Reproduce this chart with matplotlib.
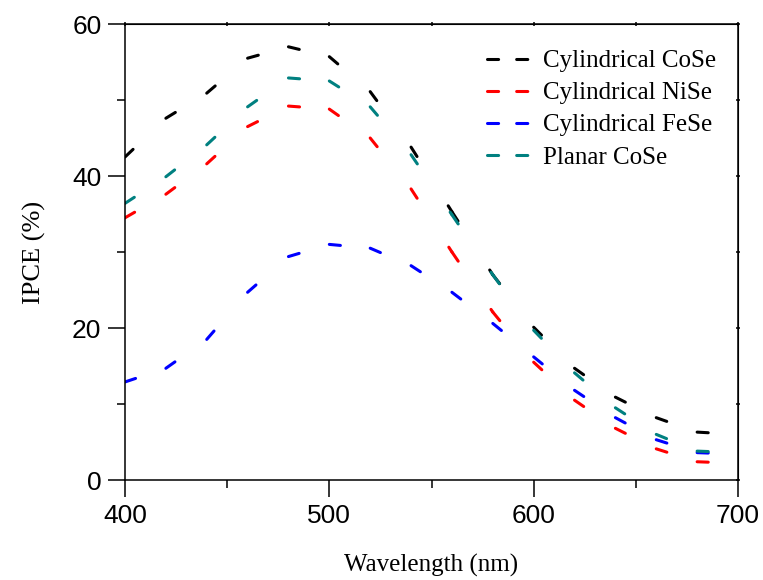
import matplotlib
matplotlib.use('Agg')
import matplotlib.pyplot as plt
from matplotlib.lines import Line2D

# datos (cada 20 nm)
longitud_onda = [400, 420, 440, 460, 480, 500, 520, 540, 560, 580, 600, 620, 640, 660, 680, 700]
cose_cilindrico = [42.5, 47.6, 50.9, 55.5, 57.0, 55.7, 51.1, 43.8, 35.3, 27.0, 20.1, 14.7, 10.9, 8.2, 6.3, 6.0]
nise_cilindrico = [34.5, 37.6, 41.6, 46.5, 49.2, 48.8, 45.0, 38.3, 30.0, 22.1, 15.5, 10.5, 6.8, 4.1, 2.4, 2.2]
fese_cilindrico = [12.9, 14.7, 18.5, 24.7, 29.4, 31.0, 30.5, 28.2, 24.7, 20.6, 16.2, 11.8, 8.2, 5.3, 3.6, 3.4]
cose_planar = [36.4, 39.9, 44.1, 49.1, 52.9, 52.5, 49.1, 42.8, 34.9, 27.0, 19.7, 14.1, 9.5, 6.0, 3.8, 3.6]

etiquetas = ['Cylindrical CoSe', 'Cylindrical NiSe', 'Cylindrical FeSe', 'Planar CoSe']
colores = ['black', '#ff0000', '#0000ff', '#008080']
series = [cose_cilindrico, nise_cilindrico, fese_cilindrico, cose_planar]

plt.rcParams['lines.scale_dashes'] = False
serif = 'Liberation Serif'
sans = 'Liberation Sans'

fig = plt.figure(figsize=(7.63, 5.8), dpi=100)
ax = fig.add_axes([125 / 763, 100 / 580, 613 / 763, 456 / 580])

# el patron de trazos se reinicia en cada tramo, como en el original
for datos, color in zip(series, colores):
    for i in range(len(longitud_onda) - 1):
        ax.plot(
            longitud_onda[i:i + 2],
            datos[i:i + 2],
            color=color,
            linewidth=2.2,
            dashes=(8, 42),
            dash_capstyle='round'
        )

ax.set_xlim(400, 700)
ax.set_ylim(0, 60)
ax.set_xticks([400, 500, 600, 700])
ax.set_xticks([450, 550, 650], minor=True)
ax.set_yticks([0, 20, 40, 60])
ax.set_yticks([10, 30, 50], minor=True)

for lado in ax.spines.values():
    lado.set_linewidth(1.1)

ax.tick_params(which='major', direction='out', length=12, width=1.1, pad=5,
               labelsize=19, top=False, right=False)
ax.tick_params(which='minor', direction='out', length=6, width=1.1,
               top=False, right=False)
for t in ax.get_xticklabels() + ax.get_yticklabels():
    t.set_fontfamily(sans)

# marcas pequenas arriba y a la derecha
arriba = ax.secondary_xaxis('top')
arriba.set_xticks([400, 500, 600, 700])
arriba.set_xticks([450, 550, 650], minor=True)
arriba.tick_params(which='both', direction='inout', length=3, width=1.1, labeltop=False)
derecha = ax.secondary_yaxis('right')
derecha.set_yticks([0, 20, 40, 60])
derecha.set_yticks([10, 30, 50], minor=True)
derecha.tick_params(which='both', direction='inout', length=3, width=1.1, labelright=False)

ax.set_xlabel('Wavelength (nm)', fontfamily=serif, fontsize=18, labelpad=19)
ax.set_ylabel('IPCE (%)', fontfamily=serif, fontsize=19, labelpad=19)

manejadores = [
    Line2D([], [], color=c, linewidth=2.2, dashes=(8, 13), dash_capstyle='round')
    for c in colores
]
ax.legend(
    manejadores, etiquetas,
    loc='upper left',
    bbox_to_anchor=((487 - 125) / 613, (480 - 50) / 456),
    borderaxespad=0,
    borderpad=0,
    frameon=False,
    handlelength=1.75,
    handletextpad=0.5,
    labelspacing=0.38,
    prop={'family': serif, 'size': 18}
)

fig.savefig('out.png', dpi=100)
